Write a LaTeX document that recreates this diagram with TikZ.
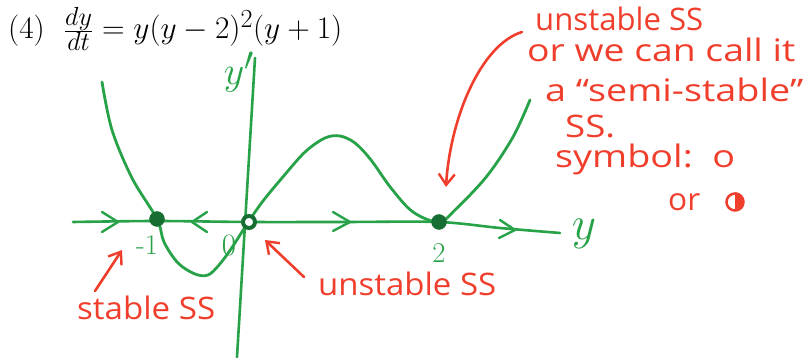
\documentclass[tikz,border=0pt]{standalone}
\usepackage{fontspec}
\usetikzlibrary{arrows.meta,calc}
\newfontfamily\hand{Open Sans}
\newcommand\hw[2]{\resizebox{#1}{\height}{#2}}
\definecolor{gline}{RGB}{40,162,72}
\definecolor{gdot}{RGB}{22,110,50}
\definecolor{rink}{RGB}{240,62,45}
\tikzset{
  axisline/.style={gline,line width=2.6pt,line cap=round,line join=round},
  curveline/.style={gline,line width=2.8pt,line cap=round},
  chev/.style={gline,line width=2.4pt,line cap=round,line join=round},
  redarrow/.style={rink,line width=2.6pt,line cap=round,-{Straight Barb[length=11pt,width=16pt,line width=2.4pt]}},
  redtext/.style={rink,font=\hand\fontsize{31}{34}\selectfont,inner sep=0pt,anchor=base west},
  greentext/.style={gline,inner sep=0pt,font=\fontsize{24.88}{28}\selectfont},
  filldot/.style={circle,fill=gdot,draw=gdot,minimum size=15pt,inner sep=0pt},
  hollowdot/.style={circle,fill=white,draw=gdot,line width=4pt,minimum size=12pt,inner sep=0pt}
}
\begin{document}
\begin{tikzpicture}[x=1pt,y=-1pt]
\useasboundingbox (0,0) rectangle (807,358);
% title
\node[anchor=base west,inner sep=0pt,font=\fontsize{24.88}{28}\selectfont] (title) at (8,39)
  {\scalebox{1.26}{(4)\ \ $\frac{dy}{dt}=y(y-2)^2(y+1)$}};
% named points
\coordinate (hL) at (73,222);
\coordinate (hR) at (560,233);
\coordinate (vT) at (255,58);
\coordinate (vB) at (237,357);
\coordinate (pA) at (157,219);
\coordinate (pO) at (249,222);
\coordinate (pB) at (439,222);
% vertical axis
\draw[axisline] (vT) -- (vB);
% horizontal axis
\draw[axisline] plot[smooth,tension=0.5] coordinates {(73,222) (157,221) (249,222) (343,222) (439,222) (500,228) (560,233)};
% chevrons
\draw[chev] (102,212) -- (118,222) -- (102,232);
\draw[chev] (207,212) -- (192,222) -- (207,232);
\draw[chev] (333,212) -- (350,222) -- (333,231);
\draw[chev] (500,220) -- (515,230) -- (499,238);
% curve
\draw[curveline] plot[smooth,tension=0.55] coordinates {
 (102,82) (112,130) (132,178) (157,219) (164,242) (178,263) (195,274) (208,275)
 (219,265) (231,249) (249,221) (263,201) (282,178) (305,152) (325,138) (340,136)
 (355,143) (371,160) (391,188) (413,212) (439,222) (456,209) (487,176) (513,137) (530,100)};
% dots
\node[filldot] (dA) at (pA) {};
\node[hollowdot] (dO) at (pO) {};
\node[filldot] (dB) at (pB) {};
% green labels
\node[greentext] (ylab) at (239,72) {\scalebox{1.6}{$y'$}};
\node[greentext] (xlab) at (584,234) {\scalebox{1.9}{$y$}};
\node[greentext] (lm1) at (147,245) {\scalebox{1.15}{-1}};
\node[greentext] (l0) at (229,245) {\scalebox{1.25}{$0$}};
\node[greentext] (l2) at (439,253) {\scalebox{1.15}{$2$}};
% red texts
\node[redtext] (t1) at (535,31) {\hw{168pt}{unstable SS}};
\node[redtext] (t2) at (527,62) {\hw{268pt}{or we can call it}};
\node[redtext] (t3) at (545,102) {\hw{258pt}{a “semi-stable”}};
\node[redtext] (t4) at (565,138) {\hw{50pt}{SS.}};
\node[redtext] (t5) at (555,168) {\hw{180pt}{symbol:\ \ o}};
\node[redtext] (t6) at (668,211) {\hw{32pt}{or}};
\node[circle,draw=rink,line width=2.5pt,minimum size=17pt,inner sep=0pt] (half) at (735,202) {};
\fill[rink] (half.north) arc[start angle=90,end angle=-90,radius=8.5pt] -- cycle;
\node[redtext] (s1) at (77,320) {\hw{138pt}{stable SS}};
\node[redtext] (s2) at (318,296) {\hw{178pt}{unstable SS}};
% red arrows
\coordinate (a1s) at (95,291);
\coordinate (a1e) at (122,250);
\draw[redarrow] (a1s) -- (a1e);
\coordinate (a2s) at (304,277);
\coordinate (a2e) at (265,240);
\draw[redarrow] (a2s) -- (a2e);
\coordinate (a3s) at (522,32);
\coordinate (a3e) at (446,187);
\draw[redarrow] (a3s) .. controls (480,45) and (450,120) .. (a3e);
\end{tikzpicture}
\end{document}
